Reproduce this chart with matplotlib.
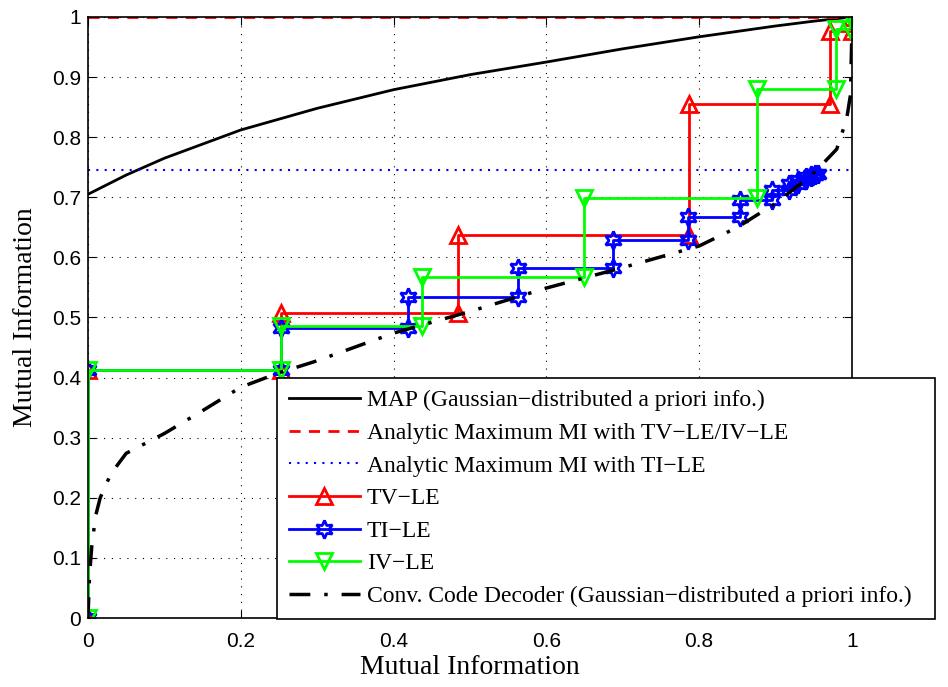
import matplotlib
matplotlib.use("Agg")
import matplotlib.pyplot as plt

# MAP detector transfer curve
map_x = [0.0, 0.05, 0.1, 0.2, 0.3, 0.4, 0.5, 0.6, 0.7, 0.8, 0.9, 0.95, 1.0]
map_y = [0.705, 0.737, 0.765, 0.812, 0.848, 0.879, 0.904, 0.925, 0.947, 0.967, 0.985, 0.993, 1.0]

# analytic maxima
max_tv_iv = 1.0
max_ti = 0.745

# decoding trajectories
tv_x = [0.0, 0.0, 0.252, 0.252, 0.484, 0.484, 0.787, 0.787, 0.971, 0.971, 1.0, 1.0]
tv_y = [0.0, 0.413, 0.413, 0.507, 0.507, 0.637, 0.637, 0.856, 0.856, 0.977, 0.977, 1.0]

ti_x = [0.0, 0.0, 0.252, 0.252, 0.419, 0.419, 0.563, 0.563, 0.687, 0.687, 0.786, 0.786,
        0.853, 0.853, 0.895, 0.895, 0.917, 0.917, 0.93, 0.93, 0.94, 0.94, 0.947, 0.947,
        0.952, 0.952, 0.955]
ti_y = [0.0, 0.413, 0.413, 0.482, 0.482, 0.534, 0.534, 0.582, 0.582, 0.629, 0.629, 0.668,
        0.668, 0.695, 0.695, 0.712, 0.712, 0.722, 0.722, 0.729, 0.729, 0.734, 0.734, 0.737,
        0.737, 0.739, 0.739]

iv_x = [0.0, 0.0, 0.252, 0.252, 0.437, 0.437, 0.649, 0.649, 0.876, 0.876, 0.979, 0.979, 0.997, 0.997]
iv_y = [0.0, 0.413, 0.413, 0.486, 0.486, 0.567, 0.567, 0.699, 0.699, 0.88, 0.88, 0.98, 0.98, 1.0]

# convolutional decoder transfer curve
cc_x = [0.0, 0.002, 0.005, 0.01, 0.016, 0.03, 0.05, 0.1, 0.15, 0.2, 0.25, 0.3, 0.4,
        0.5, 0.6, 0.7, 0.8, 0.85, 0.9, 0.95, 0.98, 0.993, 0.998, 1.0]
cc_y = [0.0, 0.07, 0.12, 0.17, 0.2, 0.24, 0.274, 0.307, 0.345, 0.384, 0.408, 0.428, 0.474,
        0.51, 0.549, 0.583, 0.619, 0.65, 0.69, 0.74, 0.78, 0.83, 0.87, 0.98]

serif = "Liberation Serif"
plt.rcParams["font.family"] = "Liberation Sans"

fig = plt.figure(figsize=(9.48, 6.87), dpi=100)
ax = fig.add_axes([0.0928, 0.1004, 0.8059, 0.8749])

ax.plot(map_x, map_y, "k-", lw=2, label="MAP (Gaussian\u2212distributed a priori info.)")
ax.axhline(max_tv_iv, color="r", ls=(0, (4, 3)), lw=2, label="Analytic Maximum MI with TV\u2212LE/IV\u2212LE")
ax.axhline(max_ti, color="b", ls=(0, (1, 3)), lw=1.5, label="Analytic Maximum MI with TI\u2212LE")
ax.plot(tv_x, tv_y, color="r", lw=2, marker="^", ms=12, mfc="none", mew=2, label="TV\u2212LE")
ax.plot(ti_x, ti_y, color="b", lw=2, marker=(6, 1, 0), ms=13, mfc="none", mew=2, label="TI\u2212LE")
ax.plot(iv_x, iv_y, color="#00ff00", lw=2, marker="v", ms=12, mfc="none", mew=2, label="IV\u2212LE")
ax.plot(cc_x, cc_y, "k", lw=2.5, ls=(0, (6, 4, 1, 4)),
        label="Conv. Code Decoder (Gaussian\u2212distributed a priori info.)")

ax.set_xlim(0, 1)
ax.set_ylim(0, 1)
ax.set_xticks([0, 0.2, 0.4, 0.6, 0.8, 1])
ax.set_xticklabels(["0", "0.2", "0.4", "0.6", "0.8", "1"])
ax.set_yticks([i / 10 for i in range(11)])
ax.set_yticklabels(["0"] + [f"0.{i}" for i in range(1, 10)] + ["1"])
ax.tick_params(direction="in", length=6, labelsize=15, top=True, right=True)
ax.tick_params(axis="x", pad=10)
ax.tick_params(axis="y", pad=5)
ax.grid(True, color="k", ls=(0, (1, 6)), lw=0.8)
for s in ax.spines.values():
    s.set_linewidth(1.2)

ax.set_xlabel("Mutual Information", family=serif, fontsize=20, labelpad=3)
ax.set_ylabel("Mutual Information", family=serif, fontsize=20, labelpad=10)

leg = ax.legend(loc="upper left", bbox_to_anchor=(277 / 948, 0.2, 658 / 948, 1 - 378 / 687 - 0.2),
                bbox_transform=fig.transFigure, mode="expand",
                prop={"family": serif, "size": 17}, fancybox=False, framealpha=1,
                edgecolor="k", handlelength=3.0, handletextpad=0.3,
                borderaxespad=0, borderpad=0.5, labelspacing=0.47)
leg.get_frame().set_linewidth(1.2)

fig.savefig("out.png", dpi=100)
